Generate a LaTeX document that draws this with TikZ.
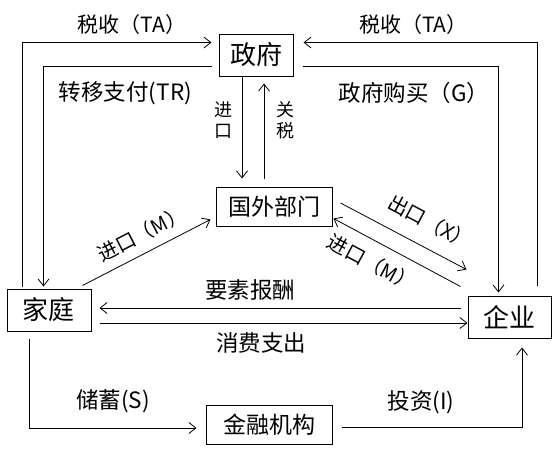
\documentclass[tikz,border=0pt]{standalone}
\usepackage{fontspec}
\setmainfont{Noto Sans CJK SC}
\usepackage{tikz}
\usetikzlibrary{arrows.meta,positioning,calc}

\begin{document}
\begin{tikzpicture}[x=1pt,y=-1pt,>={Straight Barb[length=7pt,width=11pt]},line width=0.8pt,
  box/.style={draw,line width=1pt,inner sep=0pt},
  bigtxt/.style={font=\fontsize{26}{30}\selectfont},
  midtxt/.style={font=\fontsize{23}{26}\selectfont},
  lbl/.style={font=\fontsize{22.5}{25}\selectfont,inner sep=1pt},
  taxlbl/.style={font=\fontsize{21}{24}\selectfont,inner sep=1pt},
  tilt/.style={font=\fontsize{20}{22}\selectfont,inner sep=1pt,sloped},
  small/.style={font=\fontsize{18}{21}\selectfont,inner sep=1pt,align=center}]
\useasboundingbox (0,0) rectangle (552,453);
\node[box,bigtxt,minimum width=74pt,minimum height=42pt] (gov) at (256,55) {政府};
\node[box,midtxt,minimum width=116pt,minimum height=39pt] (fs) at (274,206.5) {国外部门};
\node[box,bigtxt,minimum width=84pt,minimum height=42pt] (hh) at (49,310) {家庭};
\node[box,bigtxt,minimum width=83pt,minimum height=42pt] (biz) at (509.5,317) {企业};
\node[box,midtxt,minimum width=126pt,minimum height=39pt] (fi) at (269,424.5) {金融机构};
\draw[->] ([shift={(16pt,2pt)}]hh.north west) |- node[taxlbl,pos=0.79,above=6.5pt]{税收（TA）} ([shift={(-7pt,-9pt)}]gov.north west);
\draw[->] ([shift={(-7pt,10pt)}]gov.south west) -| node[lbl,pos=0.256,below=14pt]{转移支付(TR)} ([shift={(37pt,2pt)}]hh.north west);
\draw[->] ([shift={(-14pt,10pt)}]biz.north east) |- node[taxlbl,pos=0.765,above=6.5pt]{税收（TA）} ([shift={(10pt,-9pt)}]gov.north east);
\draw[->] ([shift={(9pt,10pt)}]gov.south east) -| node[lbl,pos=0.284,below=14pt]{政府购买（G）} ([shift={(31pt,3pt)}]biz.north west);
\coordinate (impT) at ([xshift=-14pt]gov.south);
\draw[->,shorten >=8pt] (impT) -- node[small,pos=0.4,left=8pt]{进\\口} (impT |- fs.north);
\coordinate (tarT) at ([xshift=8pt]gov.south);
\draw[->,shorten <=8pt,shorten >=7pt] (tarT |- fs.north) -- node[small,pos=0.6,right=11pt]{关\\税} (tarT);
\draw[->] ([shift={(-9pt,3pt)}]hh.north east) -- node[tilt,pos=0.53,above=8pt]{进口（M）} ([shift={(-5pt,7pt)}]fs.south west);
\draw[->] ([shift={(8pt,3.5pt)}]fs.east) -- node[tilt,pos=0.62,above=14pt]{出口（X）} ([shift={(-1pt,26pt)}]biz.north west);
\draw[<-] ([shift={(1pt,8pt)}]fs.south east) -- node[tilt,pos=0.38,below=10pt]{进口（M）} ([shift={(-7pt,9pt)}]biz.north west);
\coordinate (payR) at ([shift={(-7pt,9pt)}]biz.west);
\draw[->,shorten >=8pt] (payR) -- node[lbl,pos=0.57,above=6pt]{要素报酬} (payR -| hh.east);
\coordinate (conL) at ([shift={(8pt,-13pt)}]hh.east);
\draw[->] (conL) -- node[lbl,pos=0.44,below=8pt]{消费支出} (conL -| biz.west);
\draw[->] ([shift={(23pt,-7pt)}]hh.south west) |- node[lbl,pos=0.75,above=14pt]{储蓄(S)} ([shift={(-9pt,-3.5pt)}]fi.west);
\draw[->] ([shift={(9pt,-2.5pt)}]fi.east) -| node[lbl,pos=0.22,above=12pt]{投资(I)} ([shift={(12.5pt,-9pt)}]biz.south);
\end{tikzpicture}
\end{document}
